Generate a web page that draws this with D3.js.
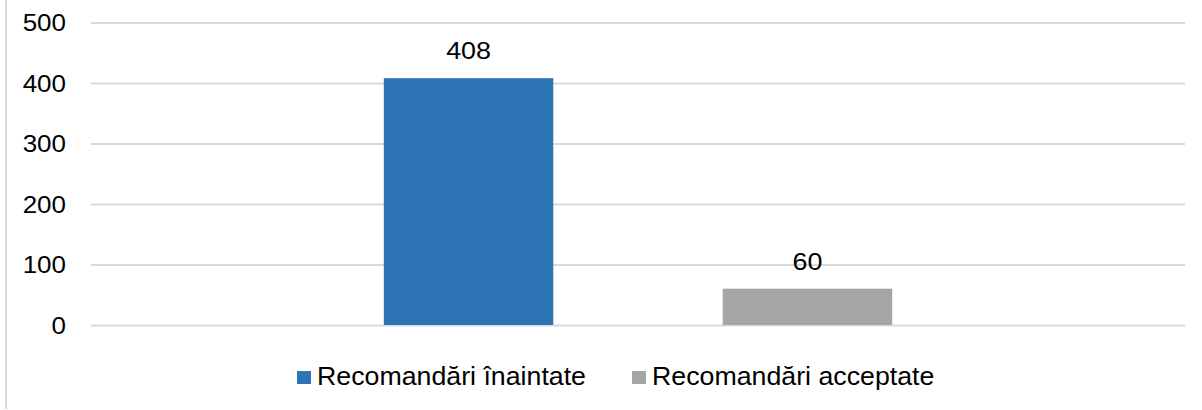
<!DOCTYPE html>
<html>
<head>
<meta charset="utf-8">
<script src="https://cdn.jsdelivr.net/npm/d3@7"></script>
<style>
  html, body { margin: 0; padding: 0; background: #fff; }
  svg { display: block; font-family: "Liberation Sans", Arial, sans-serif; }
</style>
</head>
<body>
<svg id="chart" width="1202" height="410"></svg>
<script>
const seriesNames = ["Recomandări înaintate", "Recomandări acceptate"];
const seriesValues = [408, 60];
const seriesColors = ["#2e75b6", "#a5a5a6"];
const yTicks = [0, 100, 200, 300, 400, 500];

const svg = d3.select("#chart");
const plot = { left: 91, right: 1185, top: 22.5, bottom: 325 };

// left border of chart frame
svg.append("line")
  .attr("x1", 6).attr("x2", 6).attr("y1", 0).attr("y2", 409)
  .attr("stroke", "#d9d9d9").attr("stroke-width", 2);

const y = d3.scaleLinear().domain([0, 500]).range([plot.bottom, plot.top]);
const x = d3.scaleBand().domain(seriesNames).range([plot.left, plot.right])
  .paddingInner(0.5).paddingOuter(0.864);

const sx = 1.13;

// gridlines + tick labels
const yAxis = d3.axisLeft(y).tickValues(yTicks).tickSize(-(plot.right - plot.left)).tickPadding(0).tickFormat(d3.format("d"));
const gAxis = svg.append("g").attr("transform", `translate(${plot.left},0)`).call(yAxis);
gAxis.select(".domain").remove();
gAxis.selectAll(".tick line").attr("stroke", "#d9d9d9").attr("stroke-width", 2);
gAxis.selectAll(".tick text").remove();
gAxis.selectAll(".tick").append("text")
  .attr("text-anchor", "end")
  .attr("transform", `translate(-25,8) scale(${sx},1)`)
  .attr("fill", "#000")
  .attr("font-size", 23)
  .text(d => d);

// bars
const data = seriesNames.map((n, i) => ({ name: n, value: seriesValues[i], color: seriesColors[i] }));
svg.selectAll("rect.bar").data(data).join("rect")
  .attr("class", "bar")
  .attr("x", d => x(d.name))
  .attr("width", x.bandwidth())
  .attr("y", d => y(d.value))
  .attr("height", d => y(0) - y(d.value))
  .attr("fill", d => d.color);

// value labels
svg.selectAll("text.val").data(data).join("text")
  .attr("class", "val")
  .attr("text-anchor", "middle")
  .attr("transform", d => `translate(${x(d.name) + x.bandwidth() / 2},${y(d.value) - 19}) scale(1.12,1)`)
  .attr("font-size", 24)
  .attr("fill", "#000")
  .text(d => d.value);

// legend
const legendX = [297, 632];
const lg = svg.selectAll("g.leg").data(data).join("g")
  .attr("class", "leg")
  .attr("transform", (d, i) => `translate(${legendX[i]},0)`);
lg.append("rect").attr("x", 0).attr("y", 371).attr("width", 14).attr("height", 13).attr("fill", d => d.color);
lg.append("text")
  .attr("transform", `translate(20,385) scale(1.07,1)`)
  .attr("font-size", 25)
  .attr("fill", "#000")
  .text(d => d.name);
</script>
</body>
</html>
